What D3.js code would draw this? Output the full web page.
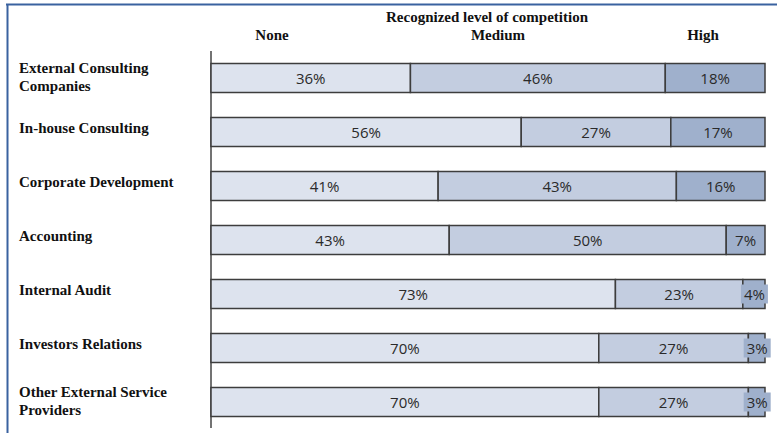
<!DOCTYPE html>
<html><head><meta charset="utf-8">
<script src="https://cdn.jsdelivr.net/npm/d3@7"></script>
<style>body{margin:0;background:#fff}svg{display:block}</style>
</head><body>
<svg id="c" width="777" height="433"></svg>
<script>
const categories = [
  ["External Consulting", "Companies"],
  ["In-house Consulting"],
  ["Corporate Development"],
  ["Accounting"],
  ["Internal Audit"],
  ["Investors Relations"],
  ["Other External Service", "Providers"]
];
const seriesNames = ["None", "Medium", "High"];
const noneVals = [36, 56, 41, 43, 73, 70, 70];
const mediumVals = [46, 27, 43, 50, 23, 27, 27];
const highVals = [18, 17, 16, 7, 4, 3, 3];
const colors = ["#dde3ee", "#c3cde0", "#9fb0cc"];
const title = "Recognized level of competition";

const svg = d3.select("#c");
const keys = categories.map(c => c.join(" "));
const data = keys.map((k, i) => ({key: k, None: noneVals[i], Medium: mediumVals[i], High: highVals[i]}));
const stack = d3.stack().keys(seriesNames)(data);

const x = d3.scaleLinear().domain([0, 100]).range([211, 765]);
const y = d3.scaleBand().domain(keys).range([63.5, 416.5]).paddingInner(25/54).paddingOuter(0);

// frame
svg.append("line").attr("x1", 6).attr("x2", 777).attr("y1", 4.5).attr("y2", 4.5).attr("stroke", "#3a62a0").attr("stroke-width", 2);
svg.append("line").attr("x1", 7.5).attr("x2", 7.5).attr("y1", 4).attr("y2", 433).attr("stroke", "#3a62a0").attr("stroke-width", 2);

// header
const serif = "'Liberation Serif','Times New Roman',serif";
svg.append("text").attr("x", 487).attr("y", 22).attr("text-anchor", "middle")
  .attr("font-family", serif).attr("font-weight", "bold").attr("font-size", 15).attr("fill", "#111").text(title);
const headX = [272, 498, 703];
seriesNames.forEach((s, i) => {
  svg.append("text").attr("x", headX[i]).attr("y", 40).attr("text-anchor", "middle")
    .attr("font-family", serif).attr("font-weight", "bold").attr("font-size", 15).attr("fill", "#111").text(s);
});

// axis line
svg.append("line").attr("x1", x(0)).attr("x2", x(0)).attr("y1", 51).attr("y2", 428).attr("stroke", "#444").attr("stroke-width", 1.5);

// category labels
categories.forEach((lines, i) => {
  const cy = y(keys[i]) + y.bandwidth() / 2 - (lines.length > 1 ? 1 : 4);
  const t = svg.append("text").attr("x", 19).attr("font-family", serif).attr("font-weight", "bold")
    .attr("font-size", 15).attr("fill", "#111");
  lines.forEach((ln, j) => {
    t.append("tspan").attr("x", 19).attr("y", cy + 5 + (j - (lines.length - 1) / 2) * 18).text(ln);
  });
});

// bars
stack.forEach((layer, si) => {
  const g = svg.append("g");
  layer.forEach((d, i) => {
    const x0 = x(d[0]), x1 = x(d[1]);
    const yy = y(keys[i]);
    g.append("rect").attr("x", x0).attr("y", yy).attr("width", x1 - x0).attr("height", y.bandwidth())
      .attr("fill", colors[si]).attr("stroke", "#3d3d3d").attr("stroke-width", 1.5);
  });
});
stack.forEach((layer, si) => {
  layer.forEach((d, i) => {
    const x0 = x(d[0]), x1 = x(d[1]);
    const yy = y(keys[i]);
    const v = d[1] - d[0];
    const label = v + "%";
    const cx = (x0 + x1) / 2;
    if (x1 - x0 < 24) {
      svg.append("rect").attr("x", cx - 13).attr("y", yy + 5).attr("width", 27).attr("height", 19)
        .attr("fill", colors[si]);
    }
    svg.append("text").attr("x", cx + (x1 - x0 < 24 ? 0.5 : 0)).attr("y", yy + y.bandwidth() / 2 + 5.5).attr("text-anchor", "middle")
      .attr("font-family", "'Open Sans',sans-serif").attr("font-size", 15).attr("fill", "#2a2a2a").text(label);
  });
});
</script>
</body></html>
